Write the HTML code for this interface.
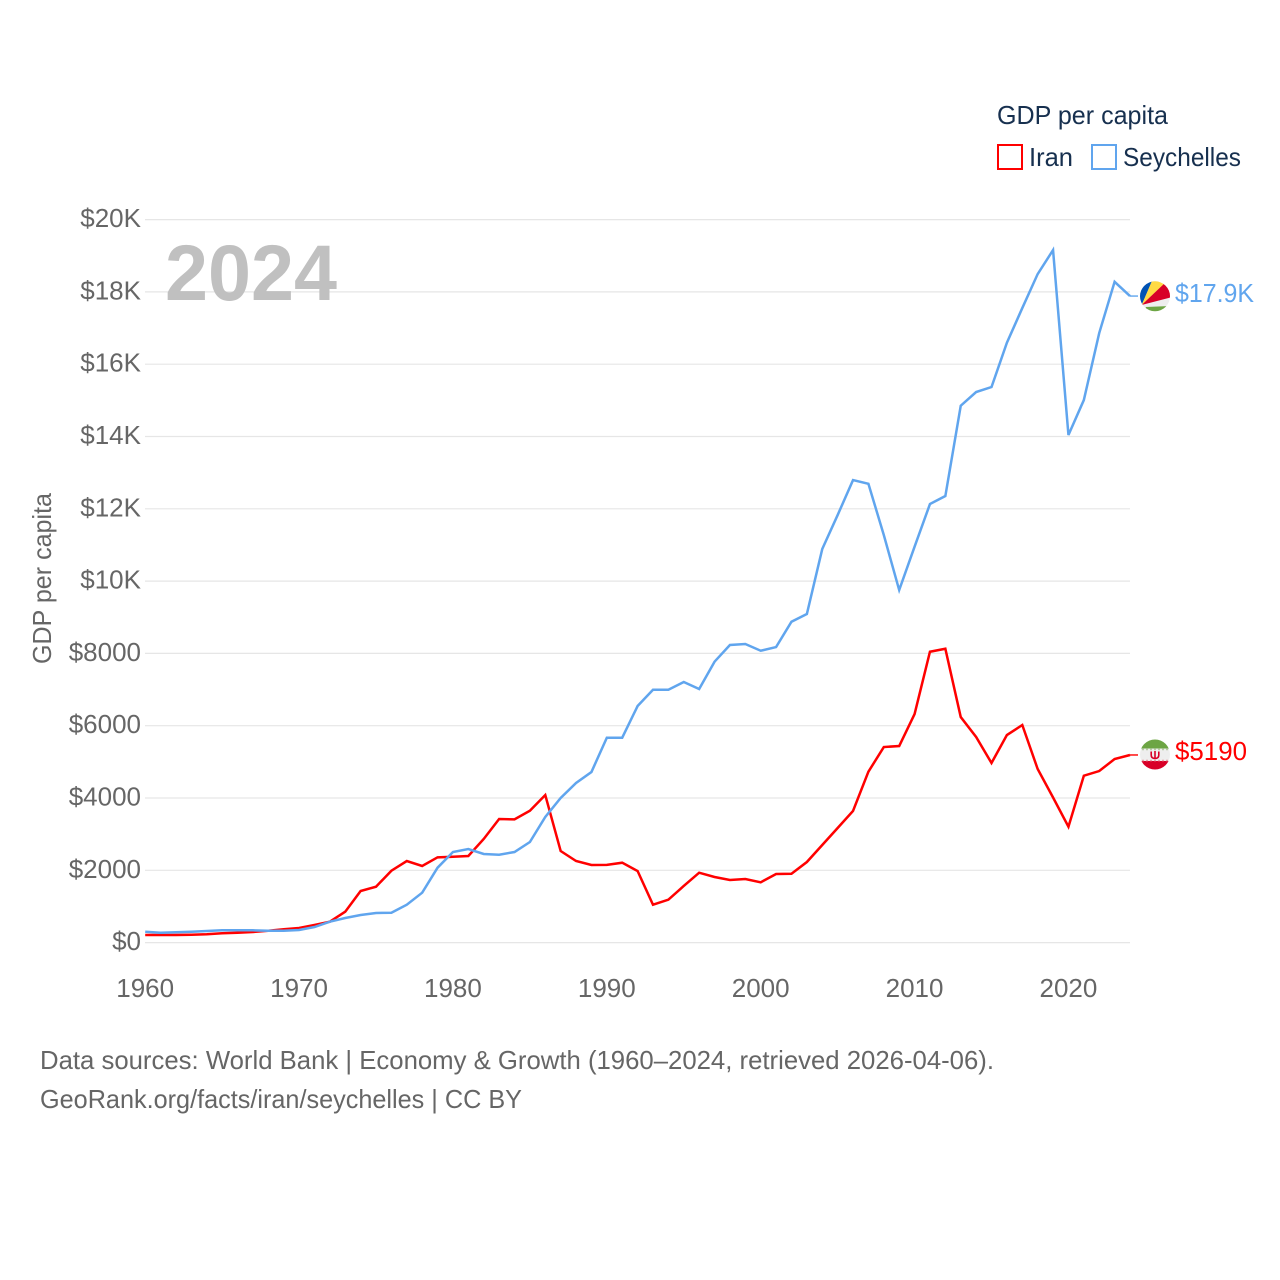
<!DOCTYPE html>
<html lang="en">
<head>
<meta charset="utf-8">
<title>GDP per capita: Iran and Seychelles</title>
<style>
html,body{margin:0;padding:0;background:#fff;}
body{width:1280px;height:1280px;overflow:hidden;}
svg{display:block;font-family:"Liberation Sans",sans-serif;}
.tick{font-size:26px;fill:#666;}
.legend{font-size:26px;fill:#17304f;}
.foot{font-size:26px;fill:#666;}
</style>
</head>
<body>
<svg id="chart" xmlns="http://www.w3.org/2000/svg" width="1280" height="1280" viewBox="0 0 1280 1280">
  <defs>
    <clipPath id="clip-sc"><circle cx="1155" cy="296.3" r="15"/></clipPath>
    <clipPath id="clip-ir"><circle cx="1155" cy="754.5" r="15"/></clipPath>
  </defs>
  <rect width="1280" height="1280" fill="#fff"/>
  <g id="grid"></g>
  <g id="y-ticks"></g>
  <g id="x-ticks"></g>
  <text class="tick" transform="translate(51,664) rotate(-90)" textLength="171" lengthAdjust="spacingAndGlyphs">GDP per capita</text>
  <text x="165" y="300" font-size="79" font-weight="700" fill="#c0c0c0" textLength="172" lengthAdjust="spacingAndGlyphs">2024</text>
  <g id="series"></g>

  <g>
    <text class="legend" x="997" y="124" textLength="171" lengthAdjust="spacingAndGlyphs">GDP per capita</text>
    <g>
      <rect x="998" y="145" width="24" height="24" fill="none" stroke="#ff0000" stroke-width="2"/>
      <text class="legend" x="1029" y="166" textLength="44" lengthAdjust="spacingAndGlyphs">Iran</text>
    </g>
    <g>
      <rect x="1092" y="145" width="24" height="24" fill="none" stroke="#60a5ee" stroke-width="2"/>
      <text class="legend" x="1123" y="166" textLength="118" lengthAdjust="spacingAndGlyphs">Seychelles</text>
    </g>
  </g>

  <g clip-path="url(#clip-sc)">
    <rect x="1135" y="276" width="40" height="40" fill="#eeeeee"/>
    <polygon points="1141.7,305 1130,270 1156.7,270" fill="#0052b4"/>
    <polygon points="1141.7,305 1156.7,270 1176,272.4" fill="#ffda44"/>
    <polygon points="1141.7,305 1176,272.4 1180,295" fill="#d80027"/>
    <polygon points="1146,307 1170,306 1176,320 1140,320" fill="#6da544"/>
  </g>
  <g clip-path="url(#clip-ir)">
    <rect x="1135" y="735" width="40" height="14" fill="#6da544"/>
    <rect x="1135" y="748.5" width="40" height="13" fill="#eeeeee"/>
    <rect x="1135" y="761" width="40" height="14" fill="#d80027"/>
    <line x1="1138" x2="1172" y1="749.5" y2="749.5" stroke="#b9c9a6" stroke-width="1.5" stroke-dasharray="2 2"/>
    <line x1="1138" x2="1172" y1="760.5" y2="760.5" stroke="#e7a0a8" stroke-width="1.5" stroke-dasharray="2 2"/>
    <path d="M1151.2,751.5 V755 Q1151.2,758.5 1155,758.5 Q1158.8,758.5 1158.8,755 V751.5 M1155,751 V759" fill="none" stroke="#d80027" stroke-width="1.6"/>
  </g>

  <text x="1175" y="302" font-size="26" fill="#60a5ee" textLength="79" lengthAdjust="spacingAndGlyphs">$17.9K</text>
  <text x="1175" y="760" font-size="26" fill="#ff0000" textLength="72" lengthAdjust="spacingAndGlyphs">$5190</text>

  <text class="foot" x="40" y="1069" textLength="954" lengthAdjust="spacingAndGlyphs">Data sources: World Bank | Economy &amp; Growth (1960–2024, retrieved 2026-04-06).</text>
  <text class="foot" x="40" y="1108" textLength="482" lengthAdjust="spacingAndGlyphs">GeoRank.org/facts/iran/seychelles | CC BY</text>
</svg>
<script>
const firstYear = 1960;
const lastYear = 2024;
const xTickYears = [1960, 1970, 1980, 1990, 2000, 2010, 2020];
const yTickValues = [0, 2000, 4000, 6000, 8000, 10000, 12000, 14000, 16000, 18000, 20000];
const yTickLabels = ['$0', '$2000', '$4000', '$6000', '$8000', '$10K', '$12K', '$14K', '$16K', '$18K', '$20K'];
const iranValues = [210, 210, 210, 218, 230, 257, 274, 293, 329, 368,
  404, 487, 578, 855, 1427, 1546, 1989, 2257, 2119, 2359,
  2376, 2395, 2866, 3419, 3410, 3648, 4083, 2534, 2257, 2146,
  2150, 2210, 1980, 1048, 1187, 1566, 1933, 1815, 1732, 1759,
  1668, 1897, 1905, 2229, 2700, 3170, 3640, 4727, 5410, 5438,
  6323, 8046, 8129, 6240, 5687, 4968, 5742, 6019, 4802, 4013,
  3206, 4616, 4746, 5078, 5190];
const seychellesValues = [301, 274, 285, 301, 321, 340, 340, 340, 329, 329,
  349, 431, 578, 680, 763, 819, 827, 1048, 1380, 2072,
  2506, 2589, 2451, 2431, 2506, 2783, 3474, 4000, 4415, 4719,
  5668, 5668, 6544, 6995, 6995, 7208, 7015, 7770, 8232, 8259,
  8074, 8176, 8876, 9089, 10887, 11827, 12795, 12693, 11274, 9753,
  10951, 12132, 12353, 14851, 15230, 15368, 16593, 17553, 18494, 19157,
  14040, 15008, 16862, 18280, 17885];

const NS = 'http://www.w3.org/2000/svg';
const plotLeft = 145.2, plotRight = 1130, plotBottom = 942.6, plotTop = 219.6, yMax = 20000;
function xScale(year) {
  return plotLeft + (year - firstYear) * (plotRight - plotLeft) / (lastYear - firstYear);
}
function yScale(value) {
  return plotBottom - value * (plotBottom - plotTop) / yMax;
}
function make(tag, parent) {
  const el = document.createElementNS(NS, tag);
  parent.appendChild(el);
  return el;
}
const gridGroup = document.getElementById('grid');
const yGroup = document.getElementById('y-ticks');
const xGroup = document.getElementById('x-ticks');
const seriesGroup = document.getElementById('series');

yTickValues.forEach(function (v, i) {
  const line = make('line', gridGroup);
  
  
  line.setAttribute('x1', 145);
  line.setAttribute('x2', plotRight);
  line.setAttribute('y1', yScale(v));
  line.setAttribute('y2', yScale(v));
  line.setAttribute('stroke', '#e6e6e6');
  line.setAttribute('stroke-width', '1.2');
  const label = make('text', yGroup);
  
  
  label.setAttribute('class', 'tick');
  label.setAttribute('x', 141);
  label.setAttribute('y', yScale(v) + 7.5);
  label.setAttribute('text-anchor', 'end');
  label.textContent = yTickLabels[i];
});

xTickYears.forEach(function (year) {
  const label = make('text', xGroup);
  
  
  label.setAttribute('class', 'tick');
  label.setAttribute('x', xScale(year));
  label.setAttribute('y', 997);
  label.setAttribute('text-anchor', 'middle');
  label.textContent = year;
});

function drawSeries(values, color, name) {
  const d = values.map(function (v, i) {
    return xScale(firstYear + i).toFixed(2) + ',' + yScale(v).toFixed(2);
  }).join(' ');
  const poly = make('polyline', seriesGroup);
  
  
  poly.setAttribute('points', d);
  poly.setAttribute('fill', 'none');
  poly.setAttribute('stroke', color);
  poly.setAttribute('stroke-width', '2.5');
  const last = yScale(values[values.length - 1]);
  const tail = make('line', seriesGroup);
  
  
  tail.setAttribute('x1', plotRight);
  tail.setAttribute('x2', plotRight + 8);
  tail.setAttribute('y1', last);
  tail.setAttribute('y2', last);
  tail.setAttribute('stroke', color);
  tail.setAttribute('stroke-width', '1.4');
}
drawSeries(iranValues, '#ff0000', 'iran');
drawSeries(seychellesValues, '#60a5ee', 'seychelles');
</script>
</body>
</html>
